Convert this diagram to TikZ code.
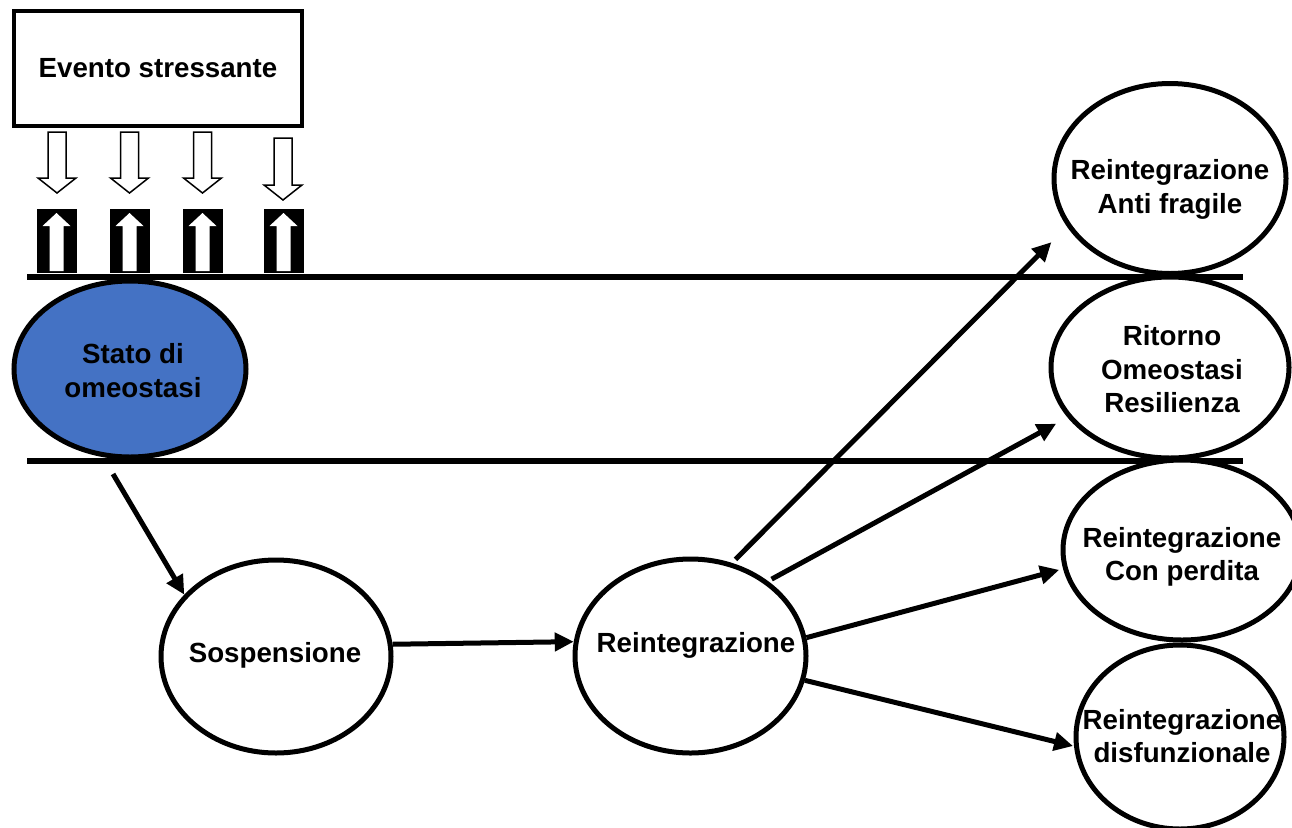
\documentclass[tikz,border=0pt]{standalone}
\usepackage{fontspec}
\setmainfont{Liberation Sans}
\usetikzlibrary{shapes.geometric,arrows.meta}
\definecolor{stateblue}{HTML}{4472C4}
\begin{document}
\begin{tikzpicture}[x=1pt,y=-1pt,
  every node/.style={font=\bfseries\fontsize{27.7}{33.4}\selectfont},
  oval/.style={draw, ellipse, line width=5pt, inner sep=0pt, fill=white},
  txt/.style={align=center, inner sep=0pt},
  arr/.style={line width=5pt, -{Triangle[length=19pt,width=18pt]}},
  downarr/.style={draw=black, line width=1.5pt, fill=white, line join=miter},
  band/.style={line width=5.5pt}
]
\useasboundingbox (0,0) rectangle (1292,827);
\clip (0,0) rectangle (1292,827);

% stress event box
\node[draw, line width=4.5pt, minimum width=288pt, minimum height=115pt, inner sep=0pt] (evento) at (158,68.5) {Evento stressante};

% hollow down arrows
\foreach \cx/\ty/\hy/\py in {57/132/178/193, 129.5/132/178/193, 202.5/132/178/193, 283/138/185/200}{
  \draw[downarr] (\cx-9,\ty) -- (\cx+9,\ty) -- (\cx+9,\hy) -- (\cx+19,\hy) -- (\cx,\py) -- (\cx-19,\hy) -- (\cx-9,\hy) -- cycle;
}
% black boxes with white up arrows
\foreach \cx in {56.5,129.5,202.5,283.5}{
  \fill[black] (\cx-20,209) rectangle (\cx+20,273);
  \fill[white] (\cx-7,271) -- (\cx-7,226) -- (\cx-14,226) -- (\cx,213) -- (\cx+14,226) -- (\cx+7,226) -- (\cx+7,271) -- cycle;
}

% horizontal band lines
\draw[band] (27,277) -- (1243,277);
\draw[band] (27,461) -- (1243,461);

% ellipses
\node[oval, fill=stateblue, minimum width=232pt, minimum height=176pt] (stato) at (130,369) {};
\node[oval, minimum width=230pt, minimum height=193pt] (sosp) at (276,656.5) {};
\node[oval, minimum width=231pt, minimum height=194pt] (reint) at (690.5,656) {};
\node[oval, minimum width=232pt, minimum height=190pt] (antif) at (1170,178.5) {};
\node[oval, minimum width=238pt, minimum height=181pt] (ritorno) at (1170,367.5) {};
\node[oval, minimum width=238pt, minimum height=180pt] (conp) at (1182,550) {};
\node[oval, minimum width=208pt, minimum height=184pt] (disf) at (1180,737) {};

% texts
\node[txt] (statot) at (133,370.4) {Stato di\\omeostasi};
\node[txt] (sospt) at (275,655.8) {Sospensione};
\node[txt] (reintt) at (696,645.8) {Reintegrazione};
\node[txt] (antift) at (1170,189.3) {Reintegrazione\\Anti fragile};
\node[txt] (ritornot) at (1172,369.4) {Ritorno\\Omeostasi\\Resilienza};
\node[txt] (conpt) at (1182,557) {Reintegrazione\\Con perdita};
\node[txt] (disft) at (1182,736) {Reintegrazione\\disfunzionale};

% connectors
\coordinate (s0) at (113,474);
\draw[arr] (s0) -- (sosp.146);
\draw[arr] (sosp.6.8) -- (reint.173.5);
\draw[arr, shorten <=5pt, shorten >=22pt] (reint.66) -- (antif.205);
\draw[arr, shorten <=4pt, shorten >=13pt] (reint.44.3) -- (ritorno.206.6);
\draw[arr, shorten >=4pt] (reint.9.3) -- (conp.189.7);
\draw[arr, shorten >=1pt] (reint.348.3) -- (disf.185.9);
\end{tikzpicture}
\end{document}
